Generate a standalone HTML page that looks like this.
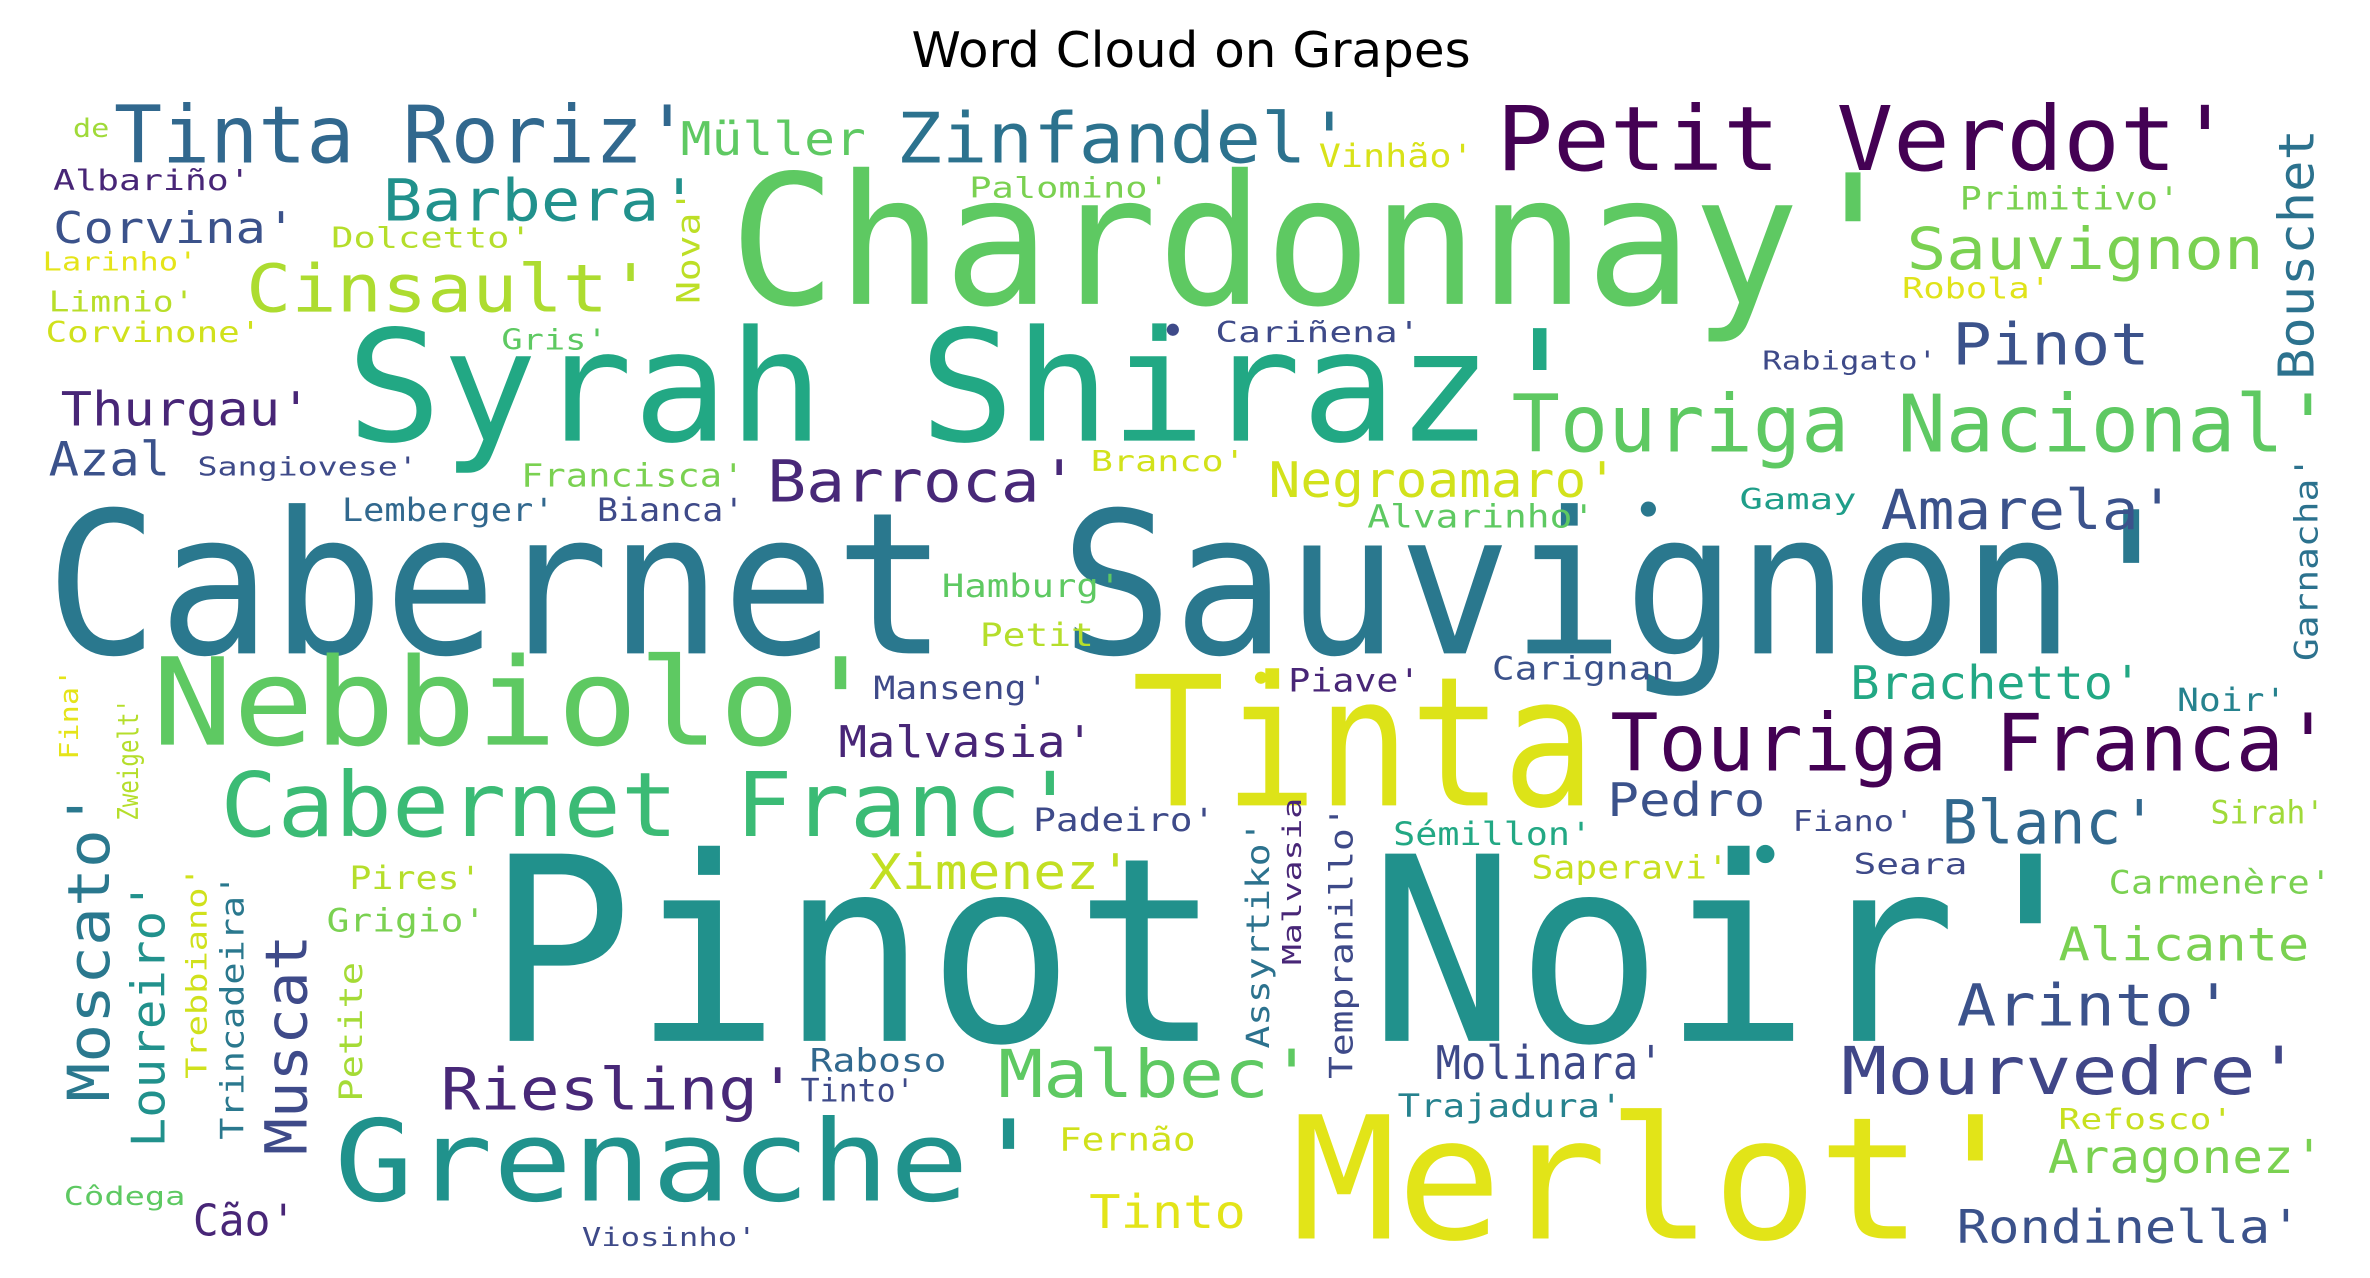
<!DOCTYPE html>
<html><head><meta charset="utf-8"><title>Word Cloud on Grapes</title>
<style>html,body{margin:0;padding:0;background:#fff;}svg{display:block;}</style></head>
<body>
<svg id="cloud" xmlns="http://www.w3.org/2000/svg" width="2370" height="1278" viewBox="0 0 1560 841" preserveAspectRatio="none">
<rect width="1560" height="841" fill="#fff"/>
<text x="784" y="44" text-anchor="middle" font-family="DejaVu Sans, Liberation Sans, sans-serif" font-size="32" textLength="368" lengthAdjust="spacingAndGlyphs" fill="#000">Word Cloud on Grapes</text>
<g id="words" font-family="DejaVu Sans Mono, Liberation Mono, monospace"></g>
<g fill="#555">
<circle cx="772" cy="217" r="4" fill="#3e4a89"/><circle cx="1162" cy="562" r="6" fill="#21918c"/><circle cx="1085" cy="335" r="5" fill="#2a788e"/><circle cx="830" cy="446" r="4" fill="#dde318"/>
</g>
</svg>
<script>
const words = ["Cabernet Sauvignon'","Pinot Noir'","Chardonnay'","Syrah Shiraz'","Tinta","Merlot'","Nebbiolo'","Grenache'","Cabernet Franc'","Touriga Franca'","Touriga Nacional'","Petit Verdot'","Tinta Roriz'","Zinfandel'","Sauvignon","Pinot","Bouschet","Cinsault'","Barbera'","Müller","Vinhão'","Palomino'","Primitivo'","Robola'","Rabigato'","Cariñena'","Corvina'","Albariño'","de","Dolcetto'","Larinho'","Limnio'","Corvinone'","Gris'","Nova'","Thurgau'","Azal","Sangiovese'","Francisca'","Branco'","Barroca'","Negroamaro'","Lemberger'","Bianca'","Alvarinho'","Gamay","Amarela'","Garnacha'","Hamburg'","Petit","Fina'","Zweigelt'","Manseng'","Piave'","Carignan","Brachetto'","Noir'","Malvasia'","Pedro","Blanc'","Fiano'","Sirah'","Padeiro'","Sémillon'","Moscato'","Loureiro'","Trebbiano'","Trincadeira'","Muscat","Petite","Pires'","Grigio'","Ximenez'","Assyrtiko'","Malvasia","Tempranillo'","Saperavi'","Seara","Carmenère'","Alicante","Arinto'","Malbec'","Riesling'","Molinara'","Mourvedre'","Raboso","Tinto'","Trajadura'","Refosco'","Fernão","Aragonez'","Côdega","Cão'","Tinto","Viosinho'","Rondinella'"];
const sizes = [137,178,125,107,125,118,84,78,62,55,55,62,55,48,40,40,34,46,40,32,22,20,22,20,18,20,30,20,18,20,18,20,20,20,22,33,33,18,22,20,40,34,22,22,22,20,38,22,22,22,18,20,22,22,22,32,22,30,32,42,20,22,22,22,40,32,20,22,40,22,22,22,34,22,18,22,22,20,22,32,40,46,40,32,46,22,22,22,20,22,32,18,30,32,18,32];
const colors = ["#2a788e","#21918c","#5ec962","#22a884","#dde318","#e2e418","#5ec962","#20928c","#3bbb75","#440154","#5ec962","#440154","#31688e","#2c728e","#7ad151","#3b528b","#2c728e","#addc30","#21918c","#5ec962","#d8e219","#7ad151","#7ad151","#e0e31a","#3e4a89","#3e4a89","#3b528b","#482677","#a0da39","#b5de2b","#e5e419","#b8de29","#d0e11c","#5ec962","#bddf26","#482677","#3b528b","#3e4a89","#7ad151","#d2e21b","#482878","#d2e21b","#31688e","#3e4a89","#5ec962","#1f9e89","#3b528b","#2c728e","#5ec962","#b5de2b","#e5e419","#b5de2b","#3e4a89","#482677","#3b528b","#22a884","#26828e","#482677","#3b528b","#31688e","#3e4a89","#a0da39","#3e4a89","#22a884","#2a788e","#21918c","#d0e11c","#2a788e","#3e4a89","#a5db36","#b5de2b","#7ad151","#c2df23","#2c728e","#482677","#3e4a89","#c8e020","#3e4a89","#7ad151","#7ad151","#3b528b","#5ec962","#482878","#3e4a89","#404688","#31688e","#3e4a89","#26828e","#c8e020","#d0e11c","#7ad151","#5ec962","#482677","#e3e419","#3e4a89","#3b528b"];
const layout = [[30,430,1440],[320,685,1385],[480,200,1255],[228,290,1045],[745,530,1050],[850,815,1335],[100,490,580],[220,790,690],[145,550,710],[1060,507,1535],[995,297,1535],[985,112,1470],[75,107,455],[590,107,890],[1255,177,1490],[1285,240,1415],[1530,250,85,1],[162,205,430],[252,145,460],[448,102,570],[868,110,970],[638,130,770],[1290,138,1435],[1252,196,1350],[1160,243,1275],[800,225,935],[35,160,195],[35,125,165],[48,90,72],[218,163,350],[28,178,130],[32,205,128],[30,225,172],[330,230,400],[465,200,125,1],[40,280,205],[32,313,112],[130,313,275],[343,320,490],[718,310,820],[505,330,710],[835,327,1065],[225,343,365],[393,343,490],[900,347,1050],[1145,335,1222],[1238,348,1432],[1530,435,300,1],[620,393,738],[645,425,720],[55,500,440,1],[95,540,460,1],[575,460,690],[848,455,935],[982,447,1102],[1218,460,1410],[1433,468,1505],[552,498,720],[1058,537,1162],[1278,555,1420],[1180,547,1260],[1455,542,1530],[680,547,800],[917,556,1048],[80,725,520,1],[115,755,580,1],[140,710,570,1],[165,750,575,1],[210,760,615,1],[243,725,633,1],[230,585,317],[215,613,320],[572,585,745],[840,690,540,1],[860,635,525,1],[895,710,530,1],[1008,578,1138],[1220,575,1295],[1388,588,1535],[1355,632,1520],[1288,675,1470],[657,722,865],[290,730,525],[945,710,1095],[1212,720,1515],[533,705,623],[527,725,602],[920,735,1068],[1355,743,1470],[697,757,787],[1348,772,1530],[42,793,122],[127,813,195],[717,808,820],[383,820,498],[1288,818,1515]];
const g = document.getElementById('words');
const NS = 'http://www.w3.org/2000/svg';
words.forEach((w,i)=>{
  const L = layout[i];
  const fs = sizes[i]*0.95;
  const t = document.createElementNS(NS,'text');
  
  
  t.setAttribute('font-size', fs);
  t.setAttribute('fill', colors[i]);
  t.setAttribute('lengthAdjust','spacingAndGlyphs');
  if (L[3]) {
    const x = L[0] - fs*0.22, y = L[1];
    t.setAttribute('x', 0); t.setAttribute('y', 0);
    t.setAttribute('transform','translate('+x+','+y+') rotate(-90)');
    t.setAttribute('textLength', L[1]-L[2]);
  } else {
    t.setAttribute('x', L[0]); t.setAttribute('y', L[1]);
    t.setAttribute('textLength', L[2]-L[0]);
  }
  t.textContent = w;
  g.appendChild(t);
});
</script>
</body></html>
